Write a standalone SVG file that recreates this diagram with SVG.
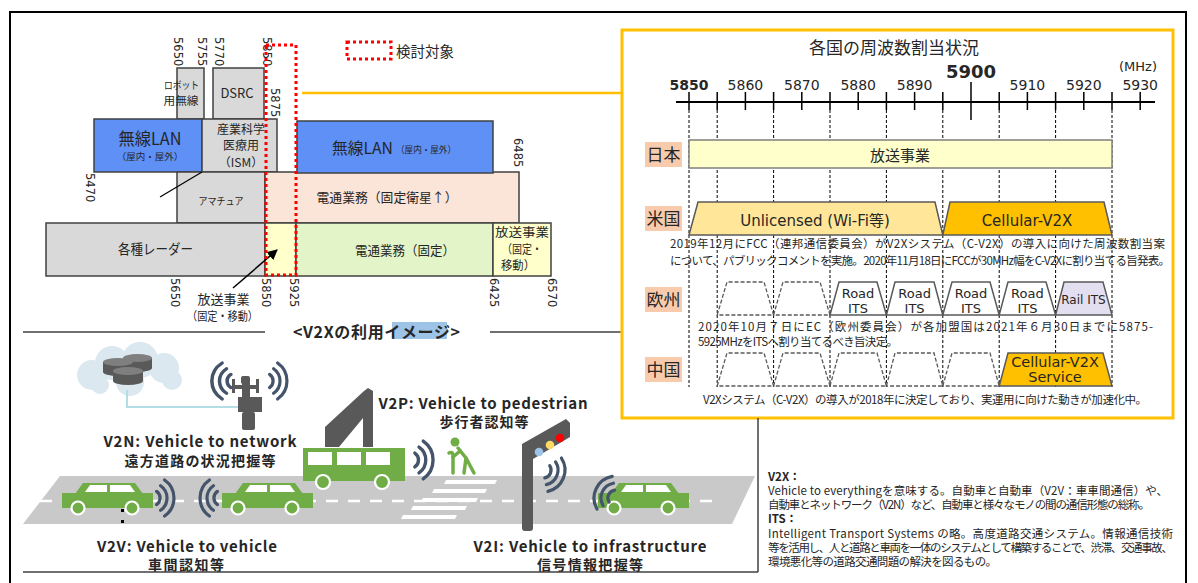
<svg xmlns="http://www.w3.org/2000/svg" width="1198" height="583" viewBox="0 0 1198 583">
<style>
text{font-family:"Noto Sans CJK JP","Noto Sans",sans-serif;fill:#262626}
.n{font-family:"DejaVu Sans","Noto Sans CJK JP",sans-serif}
.band{stroke:#404040;stroke-width:1.5}
.gray{fill:#d9d9d9}
.blue{fill:#5e90f6}
.pink{fill:#fbe4d8}
.green{fill:#e3f5c8}
.yel{fill:#ffffcc}
.dot{fill:none;stroke:#ff0000;stroke-width:3;stroke-dasharray:3 3}
.rot{font-family:"DejaVu Sans",sans-serif;font-size:11.5px;fill:#262626}
.dash{stroke:#000;stroke-width:1;stroke-dasharray:3 2}
.tz{stroke:#595959;stroke-width:1.5}
.tzd{fill:none;stroke:#595959;stroke-width:1.3;stroke-dasharray:4 2}
.lab{fill:#f8cbad}
.wave{fill:none;stroke:#44546a;stroke-width:3.2;stroke-linecap:round}
.car{fill:#70ad47}
.gry{fill:#595959}
.sep{stroke:#404040;stroke-width:1.5;fill:none}
.b{font-weight:bold}
</style>
<defs>
<path id="wv" class="wave" d="M4.6,-6.6 A8,8 0 0 1 4.6,6.6 M8.6,-12.3 A15,15 0 0 1 8.6,12.3 M12.6,-18 A22,22 0 0 1 12.6,18"/>
<g id="car">
<polygon class="car" points="13,1 21,-10 73,-10 81,1"/>
<rect class="car" x="0" y="0" width="91" height="15"/>
<polygon fill="#fff" points="23,-1 28,-8 45,-8 45,-1"/>
<polygon fill="#fff" points="48,-1 48,-8 68,-8 73,-1"/>
<circle class="car" cx="16" cy="15" r="6.5" stroke="#fff" stroke-width="2.2"/>
<circle class="car" cx="70" cy="15" r="6.5" stroke="#fff" stroke-width="2.2"/>
</g>
<marker id="ah" viewBox="0 0 10 10" refX="9" refY="5" markerWidth="7" markerHeight="7" orient="auto">
<path d="M0,0 L10,5 L0,10 Z" fill="#000"/>
</marker>
</defs>

<rect x="10" y="12" width="1176" height="590" fill="#fff" stroke="#000" stroke-width="2"/>

<!-- frequency band chart -->
<g id="band-robot">
<rect class="band gray" x="177" y="68" width="27" height="51"/>
<text x="181.5" y="89" font-size="10.5" text-anchor="middle" textLength="35" lengthAdjust="spacingAndGlyphs">ロボット</text>
<text x="181" y="105" font-size="11" text-anchor="middle" textLength="35" lengthAdjust="spacingAndGlyphs">用無線</text>
</g>
<g id="band-dsrc">
<rect class="band gray" x="213" y="68" width="51" height="51"/>
<text x="237" y="98" font-size="13" text-anchor="middle">DSRC</text>
</g>
<g id="band-wlan-low">
<rect class="band blue" x="94" y="119" width="108" height="53"/>
<text x="150" y="145" font-size="17" text-anchor="middle" textLength="63" lengthAdjust="spacingAndGlyphs">無線LAN</text>
<text x="150" y="160" font-size="9.5" text-anchor="middle">（屋内・屋外）</text>
</g>
<g id="band-ism">
<rect class="band gray" x="202" y="119" width="75" height="53"/>
<text x="241" y="134" font-size="12" text-anchor="middle">産業科学</text>
<text x="241" y="150" font-size="12" text-anchor="middle">医療用</text>
<text x="241" y="167" font-size="12" text-anchor="middle">（ISM）</text>
</g>
<g id="band-amateur">
<rect class="band gray" x="177" y="172" width="88" height="51"/>
<text x="221" y="205" font-size="10.5" text-anchor="middle" textLength="45" lengthAdjust="spacingAndGlyphs">アマチュア</text>
</g>
<g id="band-sat">
<rect class="band pink" x="265" y="172" width="254" height="51"/>
<text x="387" y="202" font-size="13" text-anchor="middle" textLength="141" lengthAdjust="spacingAndGlyphs">電通業務（固定衛星↑）</text>
</g>
<g id="band-wlan-high">
<rect class="band blue" x="297" y="121" width="196" height="52"/>
<text x="332" y="154" font-size="16" textLength="61" lengthAdjust="spacingAndGlyphs">無線LAN</text>
<text x="396" y="153" font-size="9.5" textLength="60" lengthAdjust="spacingAndGlyphs">（屋内・屋外）</text>
</g>
<g id="band-radar">
<rect class="band gray" x="46" y="223" width="219" height="53"/>
<text x="155.5" y="254" font-size="14" text-anchor="middle" textLength="75" lengthAdjust="spacingAndGlyphs">各種レーダー</text>
</g>
<g id="band-bc-its">
<rect class="band yel" x="265" y="223" width="31" height="53"/>
</g>
<g id="band-fixed">
<rect class="band green" x="296" y="223" width="197" height="53"/>
<text x="405" y="255" font-size="13" text-anchor="middle" textLength="100" lengthAdjust="spacingAndGlyphs">電通業務（固定）</text>
</g>
<g id="band-bc">
<rect class="band yel" x="493" y="223" width="58" height="53"/>
<text x="522" y="237" font-size="12" text-anchor="middle" textLength="54" lengthAdjust="spacingAndGlyphs">放送事業</text>
<text x="522" y="254" font-size="12" text-anchor="middle" textLength="40" lengthAdjust="spacingAndGlyphs">（固定・</text>
<text x="518" y="270" font-size="12" text-anchor="middle" textLength="34" lengthAdjust="spacingAndGlyphs">移動）</text>
</g>

<g id="band-labels">
<text class="rot" transform="translate(173.5,37) rotate(90)">5650</text>
<text class="rot" transform="translate(197.5,37) rotate(90)">5755</text>
<text class="rot" transform="translate(214.5,37) rotate(90)">5770</text>
<text class="rot" transform="translate(262.5,37) rotate(90)">5850</text>
<text class="rot" transform="translate(270.5,88) rotate(90)">5875</text>
<text class="rot" transform="translate(85.5,173) rotate(90)">5470</text>
<text class="rot" transform="translate(513.5,138) rotate(90)">6485</text>
<text class="rot" transform="translate(170.5,278) rotate(90)">5650</text>
<text class="rot" transform="translate(261.5,278) rotate(90)">5850</text>
<text class="rot" transform="translate(289.5,278) rotate(90)">5925</text>
<text class="rot" transform="translate(489.5,278) rotate(90)">6425</text>
<text class="rot" transform="translate(547.5,278) rotate(90)">6570</text>
<text x="223.5" y="304" font-size="13" text-anchor="middle">放送事業</text>
<text x="222.5" y="321" font-size="12" text-anchor="middle" textLength="71" lengthAdjust="spacingAndGlyphs">（固定・移動）</text>
</g>

<g id="band-connectors">
<line x1="160" y1="197" x2="202" y2="172" stroke="#000" stroke-width="1.2"/>
<line x1="233" y1="288" x2="277" y2="250" stroke="#000" stroke-width="1.5" marker-end="url(#ah)"/>
<line x1="302" y1="93" x2="622" y2="93" stroke="#ffc000" stroke-width="2.5"/>
</g>

<g id="target-area">
<rect class="dot" x="266" y="45" width="30" height="230"/>
<rect class="dot" x="347" y="42" width="44" height="17"/>
<text x="396" y="57" font-size="14.5">検討対象</text>
</g>

<!-- section heading -->
<g id="usage-heading">
<line class="sep" x1="23" y1="332" x2="265" y2="332"/>
<line class="sep" x1="490" y1="332" x2="622" y2="332"/>
<rect x="392" y="322" width="55" height="17" fill="#9dc3e6"/>
<text x="293" y="338" font-size="16" class="b" textLength="167">&lt;V2Xの利用イメージ&gt;</text>
</g>

<!-- allocation by country -->
<g id="alloc-panel">
<rect x="622" y="30" width="551" height="388" fill="#fff" stroke="#ffc000" stroke-width="3"/>
<text x="894" y="54" font-size="17" text-anchor="middle">各国の周波数割当状況</text>
<line x1="676" y1="102" x2="1155" y2="102" stroke="#000" stroke-width="2"/>
<g stroke="#000" stroke-width="1.5">
<line x1="689" y1="92" x2="689" y2="110"/><line x1="717.2" y1="92" x2="717.2" y2="110"/>
<line x1="745.4" y1="92" x2="745.4" y2="110"/><line x1="773.6" y1="92" x2="773.6" y2="110"/>
<line x1="801.8" y1="92" x2="801.8" y2="110"/><line x1="830" y1="92" x2="830" y2="110"/>
<line x1="858.2" y1="92" x2="858.2" y2="110"/><line x1="886.4" y1="92" x2="886.4" y2="110"/>
<line x1="914.6" y1="92" x2="914.6" y2="110"/><line x1="942.8" y1="92" x2="942.8" y2="110"/>
<line x1="971" y1="82" x2="971" y2="120"/><line x1="999.2" y1="92" x2="999.2" y2="110"/>
<line x1="1027.4" y1="92" x2="1027.4" y2="110"/><line x1="1055.6" y1="92" x2="1055.6" y2="110"/>
<line x1="1083.8" y1="92" x2="1083.8" y2="110"/><line x1="1112" y1="92" x2="1112" y2="110"/>
<line x1="1140.2" y1="92" x2="1140.2" y2="110"/>
</g>
<g class="n" font-size="14" text-anchor="middle">
<text x="689" y="90" class="n b">5850</text>
<text x="745.4" y="90" class="n" fill="#333">5860</text>
<text x="801.8" y="90" class="n" fill="#333">5870</text>
<text x="858.2" y="90" class="n" fill="#333">5880</text>
<text x="914.6" y="90" class="n" fill="#333">5890</text>
<text x="971" y="78" class="n b" font-size="18">5900</text>
<text x="1027.4" y="90" class="n" fill="#333">5910</text>
<text x="1083.8" y="90" class="n" fill="#333">5920</text>
<text x="1140.2" y="90" class="n" fill="#333">5930</text>
<text x="1138" y="71" class="n" font-size="13" fill="#333">(MHz)</text>
</g>
<g class="dash">
<line x1="689" y1="110" x2="689" y2="387"/><line x1="717.2" y1="110" x2="717.2" y2="387"/>
<line x1="773.6" y1="110" x2="773.6" y2="387"/><line x1="830" y1="110" x2="830" y2="387"/>
<line x1="886.4" y1="110" x2="886.4" y2="387"/><line x1="942.8" y1="110" x2="942.8" y2="387"/>
<line x1="999.2" y1="110" x2="999.2" y2="387"/><line x1="1055.6" y1="110" x2="1055.6" y2="387"/>
<line x1="1112" y1="110" x2="1112" y2="387"/>
</g>
</g>

<g id="row-japan">
<rect class="lab" x="645" y="142" width="37" height="25"/>
<text x="663.5" y="161" font-size="17" text-anchor="middle">日本</text>
<rect x="689" y="140" width="423" height="28" fill="#ffffcc" stroke="#7f7f7f" stroke-width="1.5"/>
<text x="900" y="161" font-size="15" text-anchor="middle">放送事業</text>
</g>

<g id="row-usa">
<rect class="lab" x="645" y="206" width="37" height="25"/>
<text x="663.5" y="225" font-size="17" text-anchor="middle">米国</text>
<polygon class="tz" fill="#ffe699" points="689,235 698,202 935,202 942.8,235"/>
<polygon class="tz" fill="#ffc000" points="942.8,235 950,202 1104,202 1112,235"/>
<text x="815" y="226" class="n" font-size="15" text-anchor="middle">Unlicensed (Wi-Fi等)</text>
<text x="1027" y="226" class="n" font-size="15" text-anchor="middle">Cellular-V2X</text>
<text x="670" y="248" font-size="11.5" textLength="495">2019年12月にFCC（連邦通信委員会）がV2Xシステム（C-V2X）の導入に向けた周波数割当案</text>
<text x="670" y="265" font-size="11.5" textLength="500">について、パブリックコメントを実施。2020年11月18日にFCCが30MHz幅をC-V2Xに割り当てる旨発表。</text>
</g>

<g id="row-europe">
<rect class="lab" x="645" y="287" width="37" height="25"/>
<text x="663.5" y="306" font-size="17" text-anchor="middle">欧州</text>
<polygon class="tzd" points="717.2,315 727,282 764,282 773.6,315 Z"/>
<polygon class="tzd" points="773.6,315 783,282 820,282 830,315 Z"/>
<polygon class="tz" fill="#fff" points="830,315 839,282 877,282 886.4,315"/>
<polygon class="tz" fill="#fff" points="886.4,315 895,282 934,282 942.8,315"/>
<polygon class="tz" fill="#fff" points="942.8,315 952,282 990,282 999.2,315"/>
<polygon class="tz" fill="#fff" points="999.2,315 1008,282 1046,282 1055.6,315"/>
<polygon class="tz" fill="#e4dff0" points="1055.6,315 1064,282 1103,282 1112,315"/>
<g class="n" font-size="13" text-anchor="middle">
<text class="n" x="858" y="298">Road</text><text class="n" x="858" y="313">ITS</text>
<text class="n" x="914.6" y="298">Road</text><text class="n" x="914.6" y="313">ITS</text>
<text class="n" x="971" y="298">Road</text><text class="n" x="971" y="313">ITS</text>
<text class="n" x="1027.4" y="298">Road</text><text class="n" x="1027.4" y="313">ITS</text>
<text class="n" x="1083.5" y="304" font-size="12">Rail ITS</text>
</g>
<text x="698" y="331" font-size="11.5" textLength="455">2020年10月７日にEC（欧州委員会）が各加盟国は2021年６月30日までに5875-</text>
<text x="698" y="346" font-size="11.5" textLength="200">5925MHzをITSへ割り当てるべき旨決定。</text>
</g>

<g id="row-china">
<rect class="lab" x="645" y="357" width="37" height="25"/>
<text x="663.5" y="376" font-size="17" text-anchor="middle">中国</text>
<polygon class="tzd" points="717.2,386 727,353 764,353 773.6,386 Z"/>
<polygon class="tzd" points="773.6,386 783,353 820,353 830,386 Z"/>
<polygon class="tzd" points="830,386 839,353 877,353 886.4,386 Z"/>
<polygon class="tzd" points="886.4,386 895,353 934,353 942.8,386 Z"/>
<polygon class="tzd" points="942.8,386 952,353 990,353 999.2,386 Z"/>
<polygon class="tz" fill="#ffc000" points="999.2,386 1008,353 1103,353 1112,386"/>
<text x="1055" y="367" class="n" font-size="14.5" text-anchor="middle">Cellular-V2X</text>
<text x="1055" y="382" class="n" font-size="14.5" text-anchor="middle">Service</text>
<text x="703" y="404" font-size="11.5" textLength="444">V2Xシステム（C-V2X）の導入が2018年に決定しており、実運用に向けた動きが加速化中。</text>
</g>

<!-- usage illustration -->
<g id="road">
<polygon points="60,476 755,476 732,524 23,524" fill="#c9c9c9"/>
<line x1="40" y1="501" x2="722" y2="501" stroke="#fff" stroke-width="2.5" stroke-dasharray="12 10"/>
<g fill="#fff">
<polygon points="446,480 497,480 495,484 444,484"/>
<polygon points="434,489 487,489 485,493 432,493"/>
<polygon points="423,498 478,498 476,502 421,502"/>
<polygon points="413,506 467,506 465,510 411,510"/>
<polygon points="403,515 457,515 455,519 401,519"/>
</g>
<rect x="121" y="509" width="3" height="3" fill="#000"/>
<rect x="121" y="520" width="3" height="3" fill="#000"/>
</g>

<g id="v2n">
<g fill="#dbe8ef">
<circle cx="92" cy="375" r="15"/><circle cx="112" cy="363" r="17"/><circle cx="140" cy="360" r="18"/>
<circle cx="164" cy="368" r="15"/><circle cx="172" cy="380" r="10"/><circle cx="130" cy="382" r="14"/><circle cx="100" cy="385" r="9"/>
</g>
<g>
<path class="gry" d="M123,358 v10 a14.5,4 0 0 0 29,0 v-10 Z"/><ellipse cx="137.5" cy="358" rx="14.5" ry="4" fill="#7f7f7f"/>
<path class="gry" d="M103,362 v10 a15,4 0 0 0 30,0 v-10 Z"/><ellipse cx="118" cy="362" rx="15" ry="4" fill="#7f7f7f"/>
<path class="gry" d="M113,371 v10 a15,4 0 0 0 30,0 v-10 Z"/><ellipse cx="128" cy="371" rx="15" ry="4" fill="#7f7f7f"/>
</g>
<polyline points="127,390 127,407 240,407" fill="none" stroke="#b4dde6" stroke-width="2"/>
<g class="gry">
<rect x="241" y="376" width="9" height="8" rx="2"/>
<rect x="232" y="379" width="3" height="14"/><rect x="256" y="379" width="3" height="14"/>
<rect x="234" y="385" width="24" height="4"/>
<rect x="242" y="383" width="8" height="14"/>
<rect x="238" y="397" width="24" height="15"/>
<rect x="242" y="412" width="13" height="18" rx="2"/>
</g>
<use href="#wv" transform="translate(265,381)"/>
<use href="#wv" transform="translate(236,381) scale(-1.1,1)"/>
<text x="200" y="447" font-size="15" class="b" text-anchor="middle" textLength="193">V2N: Vehicle to network</text>
<text x="200" y="466" font-size="14" class="b" text-anchor="middle" textLength="151">遠方道路の状況把握等</text>
</g>

<g id="v2v">
<use href="#car" transform="translate(62,493)"/>
<use href="#car" transform="translate(222,493)"/>
<use href="#wv" transform="translate(152,498)"/>
<use href="#wv" transform="translate(222,498) scale(-1,1)"/>
<text x="187" y="552" font-size="15" class="b" text-anchor="middle" textLength="180">V2V: Vehicle to vehicle</text>
<text x="186" y="570" font-size="14" class="b" text-anchor="middle" textLength="76">車間認知等</text>
</g>

<g id="v2p">
<path class="gry" d="M325,447 L325,427 L364,391 L368,388 L373,391 L373,447 L363,447 L363,418 L339,447 Z"/>
<rect class="car" x="303" y="448" width="102" height="33"/>
<g fill="#fff">
<rect x="308" y="452" width="24" height="13"/><rect x="337" y="452" width="24" height="13"/><rect x="366" y="452" width="24" height="13"/>
</g>
<circle class="car" cx="323" cy="482" r="7" stroke="#fff" stroke-width="2.2"/>
<circle class="car" cx="382" cy="482" r="7" stroke="#fff" stroke-width="2.2"/>
<use href="#wv" transform="translate(410,460) scale(1.05)"/>
<g fill="none" stroke="#70ad47" stroke-width="3.5" stroke-linecap="round">
<path d="M458,448 L466,458"/>
<path d="M466,458 L464,473 M466,458 L474,473"/>
<path d="M460,451 L453,457"/>
<path d="M453,473 L453,456 Q453,451 449,453"/>
</g>
<circle cx="455" cy="442" r="4.5" fill="#70ad47"/>
<text x="483" y="409" font-size="15" class="b" text-anchor="middle" textLength="209">V2P: Vehicle to pedestrian</text>
<text x="484" y="427" font-size="14" class="b" text-anchor="middle" textLength="89">歩行者認知等</text>
</g>

<g id="v2i">
<rect class="gry" x="522" y="447" width="11" height="84" rx="3"/>
<polygon class="gry" points="522,444 566,419 570,423 570,437 533,459 522,456"/>
<circle cx="539" cy="452" r="4.3" fill="#9dc3e6"/>
<circle cx="550" cy="445" r="4.3" fill="#ffd966"/>
<circle cx="560" cy="438" r="4.3" fill="#ff0000"/>
<use href="#wv" transform="translate(543,470) rotate(22)"/>
<use href="#car" transform="translate(598,493)"/>
<use href="#wv" transform="translate(616,498) rotate(205)"/>
<text x="590" y="552" font-size="15" class="b" text-anchor="middle" textLength="233">V2I: Vehicle to infrastructure</text>
<text x="590" y="570" font-size="14" class="b" text-anchor="middle" textLength="106">信号情報把握等</text>
</g>

<g id="frame-lines">
<line class="sep" x1="23" y1="572" x2="758" y2="572"/>
<line class="sep" x1="758" y1="418" x2="758" y2="572"/>
</g>

<!-- glossary -->
<g id="glossary" font-size="11.5">
<text x="768" y="481" class="b">V2X：</text>
<text x="768" y="495" textLength="400">Vehicle to everythingを意味する。自動車と自動車（V2V：車車間通信）や、</text>
<text x="768" y="509" textLength="382">自動車とネットワーク（V2N）など、自動車と様々なモノの間の通信形態の総称。</text>
<text x="768" y="523" class="b">ITS：</text>
<text x="768" y="538" textLength="405">Intelligent Transport Systems の略。高度道路交通システム。情報通信技術</text>
<text x="768" y="552" textLength="405">等を活用し、人と道路と車両を一体のシステムとして構築することで、渋滞、交通事故、</text>
<text x="768" y="566" textLength="229">環境悪化等の道路交通問題の解決を図るもの。</text>
</g>
</svg>
